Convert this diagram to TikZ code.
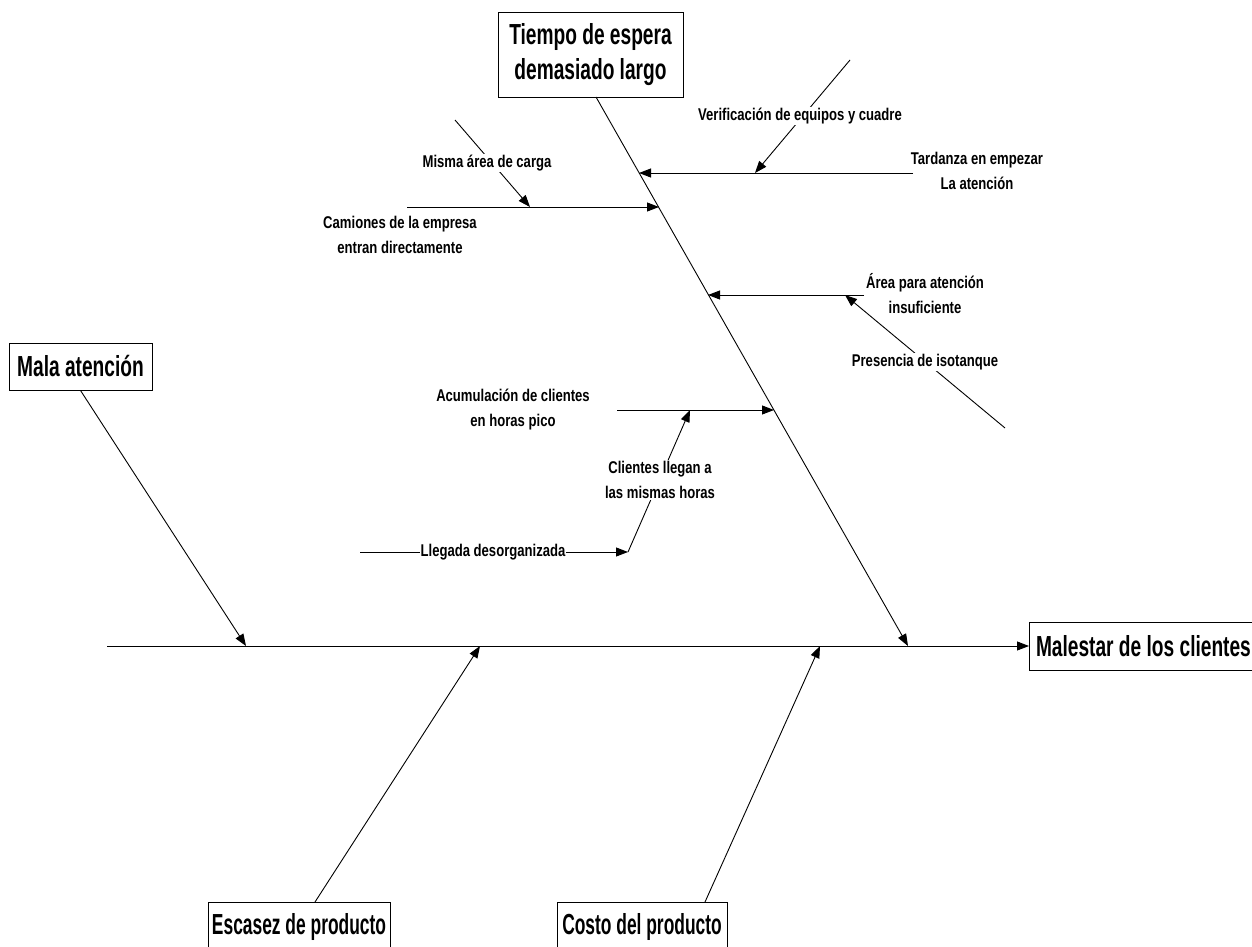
\documentclass[tikz,border=0pt]{standalone}
\usepackage{fontspec}
\newfontfamily\bigf[FakeStretch=0.66]{Liberation Sans Bold}
\newfontfamily\bigfn[FakeStretch=0.6]{Liberation Sans Bold}
\newfontfamily\smallf[FakeStretch=0.77]{Liberation Sans Bold}
\usetikzlibrary{arrows.meta}
\tikzset{
  bone/.style={line width=0.9pt, -{Triangle[length=12pt,width=9pt]}},
  bigbox/.style={draw, line width=0.9pt, fill=white, align=center, inner sep=0pt,
    font={\bigf\fontsize{29}{35}\selectfont}},
  bigboxn/.style={bigbox, font={\bigfn\fontsize{29}{35}\selectfont}},
  lbl/.style={align=center, inner sep=1pt,
    font={\smallf\fontsize{17}{25}\selectfont}},
  lblw/.style={lbl, fill=white},
}
\begin{document}
\begin{tikzpicture}[x=1pt,y=-1pt]
\useasboundingbox (0,0) rectangle (1252,947);
\clip (0,0) rectangle (1252,947);
% main boxes
\node[bigbox, minimum width=185, minimum height=85] (tiempo) at (590.5,54.5) {Tiempo de espera\\demasiado largo};
\node[bigbox, minimum width=143, minimum height=47] (mala) at (80.5,366.5) {Mala atención};
\node[bigbox, minimum width=228, minimum height=48, anchor=west] (malestar) at (1029,646) {Malestar de los clientes};
\node[bigboxn, minimum width=182, minimum height=50, anchor=north] (escasez) at (299,902) {Escasez de producto};
\node[bigboxn, minimum width=170, minimum height=50, anchor=north] (costo) at (642,902) {Costo del producto};
% spine
\coordinate (s0) at (107,646);
\draw[bone] (s0) -- (malestar.west);
% main bones
\coordinate (tb0) at (596,97);
\coordinate (tb1) at (908,646);
\coordinate (mb1) at (246,646);
\coordinate (eb0) at (315,902);
\coordinate (eb1) at (480,646);
\coordinate (cb0) at (705,902);
\coordinate (cb1) at (820,646);
\draw[bone] (tb0) -- (tb1);
\draw[bone] (mala.south) -- (mb1);
\draw[bone] (eb0) -- (eb1);
\draw[bone] (cb0) -- (cb1);
% branch: Tardanza
\coordinate (t0) at (913,173);
\coordinate (t1) at (639,173);
\draw[bone] (t0) -- (t1);
\node[lbl] (tard) at (977,171) {Tardanza en empezar\\La atención};
\coordinate (v0) at (850,60);
\coordinate (v1) at (755,173);
\draw[bone] (v0) -- (v1);
\node[lblw] (verif) at (800,116) {Verificación de equipos y cuadre};
% branch: Camiones
\coordinate (c0) at (407,207);
\coordinate (c1) at (659,207);
\draw[bone] (c0) -- (c1);
\node[lbl] (cami) at (400,235) {Camiones de la empresa\\entran directamente};
\coordinate (m0) at (455,120);
\coordinate (m1) at (530,207);
\draw[bone] (m0) -- (m1);
\node[lblw] (misma) at (487,163) {Misma área de carga};
% branch: Área
\coordinate (a0) at (864,295);
\coordinate (a1) at (708,295);
\draw[bone] (a0) -- (a1);
\node[lbl] (area) at (925,294) {Área para atención\\insuficiente};
\coordinate (p0) at (1005,428);
\coordinate (p1) at (845,295);
\draw[bone] (p0) -- (p1);
\node[lblw] (pres) at (925,362) {Presencia de isotanque};
% branch: Acumulación
\coordinate (ac0) at (617,410);
\coordinate (ac1) at (774,410);
\draw[bone] (ac0) -- (ac1);
\node[lbl] (acum) at (513,410) {Acumulación de clientes\\en horas pico};
\coordinate (cl0) at (628,552);
\coordinate (cl1) at (690,410);
\draw[bone] (cl0) -- (cl1);
\node[lblw] (clie) at (660,480) {Clientes llegan a\\las mismas horas};
\coordinate (ll0) at (360,552);
\draw[bone] (ll0) -- (cl0);
\node[lblw] (lleg) at (493,552) {Llegada desorganizada};
\end{tikzpicture}
\end{document}
